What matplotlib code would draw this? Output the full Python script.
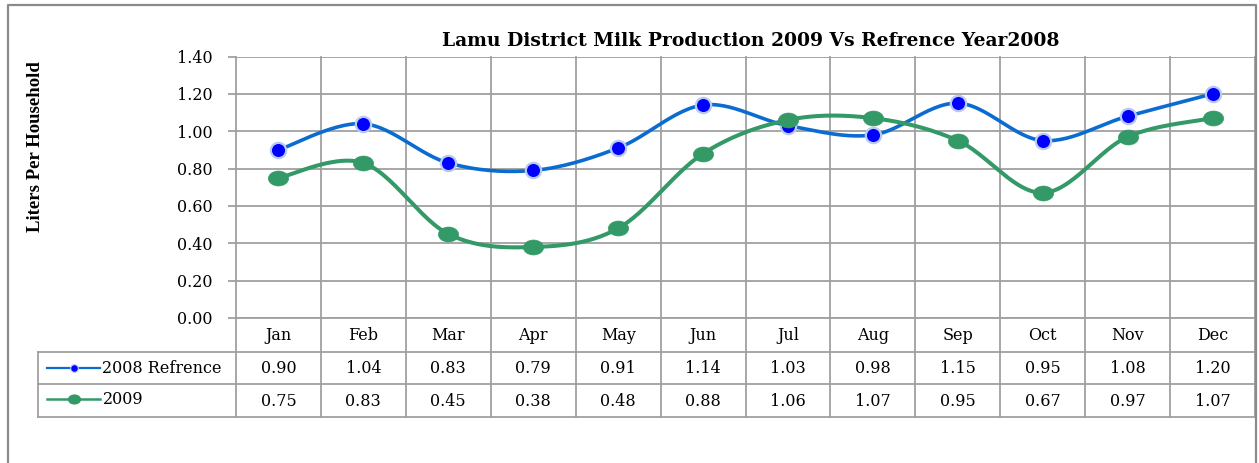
import numpy as np
import matplotlib
matplotlib.use("Agg")
import matplotlib.pyplot as plt
from matplotlib.lines import Line2D
from matplotlib.path import Path

# --- DATA ---
months = ["Jan", "Feb", "Mar", "Apr", "May", "Jun", "Jul", "Aug", "Sep", "Oct", "Nov", "Dec"]
ref_2008 = [0.90, 1.04, 0.83, 0.79, 0.91, 1.14, 1.03, 0.98, 1.15, 0.95, 1.08, 1.20]
prod_2009 = [0.75, 0.83, 0.45, 0.38, 0.48, 0.88, 1.06, 1.07, 0.95, 0.67, 0.97, 1.07]
series_names = ["2008 Refrence", "2009"]
y_ticks = [0.0, 0.2, 0.4, 0.6, 0.8, 1.0, 1.2, 1.4]

# --- STYLING ---
BLUE_LINE = "#0A6CD0"
BLUE_MARK = "#0000FF"
BLUE_HALO = "#B9C9F2"
GREEN = "#339966"
GRID = "#A0A0A0"
FRAME = "#8A8A8A"
TXT_FONT = "DejaVu Serif"
TXT_SIZE = 11.5
W, H = 1259, 463


def fx(px):
    return px / W


def fy(py):
    return 1 - py / H


def smooth(xs, ys, n=30):
    # Excel-like smoothed line (Catmull-Rom as cubic Bezier)
    p = np.column_stack([xs, ys])
    pts = np.vstack([p[0], p, p[-1]])
    out = []
    t = np.linspace(0, 1, n)[:, None]
    for i in range(1, len(pts) - 2):
        p0, p1, p2, p3 = pts[i - 1], pts[i], pts[i + 1], pts[i + 2]
        c1 = p1 + (p2 - p0) / 6
        c2 = p2 - (p3 - p1) / 6
        seg = ((1 - t) ** 3) * p1 + 3 * ((1 - t) ** 2) * t * c1 + 3 * (1 - t) * t ** 2 * c2 + t ** 3 * p2
        out.append(seg)
    out = np.vstack(out)
    return out[:, 0], out[:, 1]


# elliptical marker (chart was stretched horizontally)
circ = Path.unit_circle()
ellipse = Path(circ.vertices * np.array([1.0, 0.74]), circ.codes)

fig = plt.figure(figsize=(W / 100, H / 100), dpi=100)

# plot area in pixels: x 236..1255, y 56.5..318
ax_top, ax_bot, ax_left, ax_right = 56.5, 318, 236, 1255
ax = fig.add_axes([fx(ax_left), fy(ax_bot), fx(ax_right) - fx(ax_left), fy(ax_top) - fy(ax_bot)])
ax_h = ax_bot - ax_top


def ay(py):
    return (ax_bot - py) / ax_h


x = np.arange(len(months)) + 0.5

sx, sy = smooth(x, ref_2008)
ax.plot(sx, sy, color=BLUE_LINE, lw=2.6, zorder=3, solid_capstyle="round")
ax.plot(x, ref_2008, ls="none", marker="o", ms=11, mfc=BLUE_MARK, mec=BLUE_HALO, mew=1.6, zorder=4)

sx, sy = smooth(x, prod_2009)
ax.plot(sx, sy, color=GREEN, lw=2.9, zorder=3, solid_capstyle="round")
ax.plot(x, prod_2009, ls="none", marker=ellipse, ms=14.5, mfc=GREEN, mec=GREEN, mew=0.5, zorder=4)

ax.set_xlim(0, 12)
ax.set_ylim(0, 1.4)
ax.set_yticks(y_ticks)
ax.set_yticklabels([f"{v:.2f}" for v in y_ticks], fontfamily=TXT_FONT, fontsize=TXT_SIZE)
ax.set_xticks([])
ax.tick_params(axis="y", length=6, width=1.3, color=GRID, pad=11)
ax.grid(axis="y", color=GRID, lw=1.3)
for sp in ax.spines.values():
    sp.set_visible(False)

# vertical gridlines run through the category row and the data table
xt = ax.get_xaxis_transform()
for i in range(len(months) + 1):
    ax.plot([i, i], [ay(417), 1], transform=xt, color=GRID, lw=1.3, clip_on=False, zorder=1)

# horizontal table lines
for py, left in [(ax_bot, ax_left), (352, 38), (384, 38), (417, 38)]:
    fig.add_artist(Line2D([fx(left), fx(ax_right)], [fy(py), fy(py)], color=GRID, lw=1.3))
fig.add_artist(Line2D([fx(38), fx(38)], [fy(352), fy(417)], color=GRID, lw=1.3))

# category labels and values
for i, m in enumerate(months):
    ax.text(x[i], ay(336), m, transform=xt, ha="center", va="center",
            fontfamily=TXT_FONT, fontsize=TXT_SIZE, clip_on=False)
    ax.text(x[i], ay(368.5), f"{ref_2008[i]:.2f}", transform=xt, ha="center", va="center",
            fontfamily=TXT_FONT, fontsize=TXT_SIZE, clip_on=False)
    ax.text(x[i], ay(401), f"{prod_2009[i]:.2f}", transform=xt, ha="center", va="center",
            fontfamily=TXT_FONT, fontsize=TXT_SIZE, clip_on=False)

# legend keys inside the table
fig.add_artist(Line2D([fx(47), fx(100)], [fy(368), fy(368)], color=BLUE_LINE, lw=1.6))
fig.add_artist(Line2D([fx(73.5)], [fy(368)], ls="none", marker="o", ms=5.5,
                      mfc=BLUE_MARK, mec=BLUE_HALO, mew=0.8))
fig.text(fx(102), fy(368.5), series_names[0], ha="left", va="center",
         fontfamily=TXT_FONT, fontsize=TXT_SIZE)
fig.add_artist(Line2D([fx(47), fx(100)], [fy(399), fy(399)], color=GREEN, lw=1.8))
fig.add_artist(Line2D([fx(73.5)], [fy(399)], ls="none", marker=ellipse, ms=8.5,
                      mfc=GREEN, mec=GREEN))
fig.text(fx(103), fy(399), series_names[1], ha="left", va="center",
         fontfamily=TXT_FONT, fontsize=TXT_SIZE)

# title and axis label
fig.text(fx(751), fy(41), "Lamu District Milk Production 2009 Vs Refrence Year2008",
         ha="center", va="center", fontfamily="DejaVu Serif", fontweight="bold", fontsize=13.5)
fig.text(fx(36), fy(147), "Liters Per Household", rotation=90, ha="center", va="center",
         fontfamily="Liberation Serif", fontweight="bold", fontsize=13.5)

# outer chart frame (bottom edge is cut off)
fig.add_artist(Line2D([fx(8), fx(8), fx(1256), fx(1256)], [0, fy(5), fy(5), 0], color=FRAME, lw=1.6))

fig.savefig("out.png", dpi=100)
